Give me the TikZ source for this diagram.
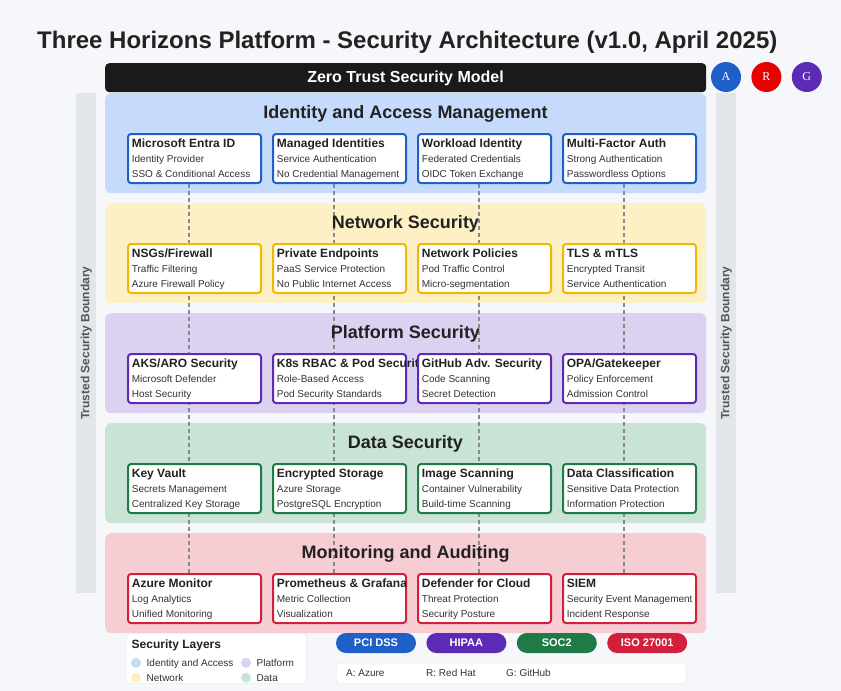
\documentclass[tikz,border=0pt]{standalone}
\usepackage{fontspec}
\setmainfont{Liberation Sans}
\newfontfamily\badgefont{Liberation Serif}
\usetikzlibrary{positioning,calc}

% colours
\definecolor{pagebg}{HTML}{F5F7FA}
\definecolor{ink}{HTML}{222222}
\definecolor{inksoft}{HTML}{333333}
\definecolor{ztblack}{HTML}{1A1A1A}
\definecolor{azure}{HTML}{1F60C8}
\definecolor{redhat}{HTML}{E60000}
\definecolor{github}{HTML}{5B2BB5}
\definecolor{boundary}{HTML}{E2E5EA}
\definecolor{boundtext}{HTML}{555555}
\definecolor{idfill}{HTML}{C6DBFC}
\definecolor{idline}{HTML}{1F5FC8}
\definecolor{netfill}{HTML}{FDF0C4}
\definecolor{netline}{HTML}{F2B705}
\definecolor{platfill}{HTML}{DDD1F1}
\definecolor{platline}{HTML}{5B2BB5}
\definecolor{datafill}{HTML}{C9E3D5}
\definecolor{dataline}{HTML}{1F7A47}
\definecolor{monfill}{HTML}{F5CDD3}
\definecolor{monline}{HTML}{D21F3C}
\definecolor{panelline}{HTML}{DDE1E6}
\definecolor{linkgray}{HTML}{8A8A8A}

\pgfdeclarelayer{bg}
\pgfdeclarelayer{links}
\pgfsetlayers{bg,links,main}

\tikzset{
    % layer band
    layer/.style={
           anchor=north west,
           inner sep=0pt,
           rounded corners=6pt,
           minimum width=601pt,
           minimum height=100pt},
    layertitle/.style={
           anchor=base,
           inner sep=0pt,
           text=ink,
           font=\fontsize{18}{20}\selectfont\bfseries},
    % white component box
    secbox/.style={
           draw=#1,
           line width=2pt,
           fill=white,
           rounded corners=3pt,
           anchor=north west,
           inner sep=0pt,
           minimum width=133pt,
           minimum height=49pt},
    boxtitle/.style={
           anchor=base west,
           inner sep=0pt,
           text=ink,
           font=\fontsize{12}{14}\selectfont\bfseries},
    boxline/.style={
           anchor=base west,
           inner sep=0pt,
           text=inksoft,
           font=\fontsize{10}{12}\selectfont},
    % dashed link between layers
    link/.style={
           draw=linkgray,
           line width=1.4pt,
           dash pattern=on 4pt off 3pt},
    badge/.style={
           circle,
           minimum size=30pt,
           inner sep=0pt,
           text=white,
           font=\badgefont\fontsize{12}{14}\selectfont},
    pill/.style={
           rounded corners=10pt,
           minimum width=80pt,
           minimum height=20pt,
           inner sep=0pt,
           text=white,
           font=\fontsize{11}{13}\selectfont\bfseries},
    legendtext/.style={
           anchor=base west,
           inner sep=0pt,
           text=inksoft,
           font=\fontsize{10}{12}\selectfont}
}

\begin{document}
\begin{tikzpicture}[x=1pt,y=-1pt]
	\useasboundingbox (0,0) rectangle (841,691);
	\begin{pgfonlayer}{bg}
	\fill[pagebg] (0,0) rectangle (841,691);
	\end{pgfonlayer}

	% title
	\node[anchor=base west, inner sep=0pt, text=ink, font=\fontsize{24}{28}\selectfont\bfseries]
	     (main-title) at (37,48.5) {Three Horizons Platform - Security Architecture (v1.0, April 2025)};

	% zero trust bar
	\node[anchor=north west, fill=ztblack, rounded corners=4pt, minimum width=601pt, minimum height=29pt, inner sep=0pt]
	     (zt-bar) at (105,63) {};
	\node[anchor=base, inner sep=0pt, text=white, font=\fontsize{16}{18}\selectfont\bfseries]
	     (zt-name) at (405.5,82.7) {Zero Trust Security Model};

	% provider badges
	\node[badge, fill=azure] (badge-a) at (726,77) {A};
	\node[badge, fill=redhat, right=10pt of badge-a] (badge-r) {R};
	\node[badge, fill=github, right=10pt of badge-r] (badge-g) {G};

	% trust boundary
	\node[anchor=north west, fill=boundary, minimum width=20pt, minimum height=500pt, inner sep=0pt] (bound-left) at (76,93) {};
	\node[anchor=north west, fill=boundary, minimum width=20pt, minimum height=500pt, inner sep=0pt] (bound-right) at (716,93) {};
	\node[rotate=90, text=boundtext, font=\fontsize{12}{14}\selectfont\bfseries] at (bound-left.center) {Trusted Security Boundary};
	\node[rotate=90, text=boundtext, font=\fontsize{12}{14}\selectfont\bfseries] at (bound-right.center) {Trusted Security Boundary};

	% identity layer
	\begin{pgfonlayer}{bg}
	\node[layer, fill=idfill] (id-layer) at (105,93) {};
	\end{pgfonlayer}
	\node[layertitle] (id-title) at (405.5,118.5) {Identity and Access Management};
	\foreach \n/\x/\name/\one/\two in {
	    1/127/Microsoft Entra ID/Identity Provider/SSO \& Conditional Access,
	    2/272/Managed Identities/Service Authentication/No Credential Management,
	    3/417/Workload Identity/Federated Credentials/OIDC Token Exchange,
	    4/562/Multi-Factor Auth/Strong Authentication/Passwordless Options}{
	  \node[secbox=idline] (id-\n) at (\x,133) {};
	  \node[boxtitle] at ([xshift=4.7pt,yshift=-14.6pt]id-\n.north west) {\name};
	  \node[boxline] at ([xshift=4.7pt,yshift=-29.9pt]id-\n.north west) {\one};
	  \node[boxline] at ([xshift=4.7pt,yshift=-44.9pt]id-\n.north west) {\two};
	}

	% network layer
	\begin{pgfonlayer}{bg}
	\node[layer, fill=netfill] (net-layer) at (105,203) {};
	\end{pgfonlayer}
	\node[layertitle] (net-title) at (405.5,228.5) {Network Security};
	\foreach \n/\x/\name/\one/\two in {
	    1/127/{NSGs/Firewall}/Traffic Filtering/Azure Firewall Policy,
	    2/272/Private Endpoints/PaaS Service Protection/No Public Internet Access,
	    3/417/Network Policies/Pod Traffic Control/Micro-segmentation,
	    4/562/TLS \& mTLS/Encrypted Transit/Service Authentication}{
	  \node[secbox=netline] (net-\n) at (\x,243) {};
	  \node[boxtitle] at ([xshift=4.7pt,yshift=-14.6pt]net-\n.north west) {\name};
	  \node[boxline] at ([xshift=4.7pt,yshift=-29.9pt]net-\n.north west) {\one};
	  \node[boxline] at ([xshift=4.7pt,yshift=-44.9pt]net-\n.north west) {\two};
	}

	% platform layer
	\begin{pgfonlayer}{bg}
	\node[layer, fill=platfill] (plat-layer) at (105,313) {};
	\end{pgfonlayer}
	\node[layertitle] (plat-title) at (405.5,338.5) {Platform Security};
	\foreach \n/\x/\name/\one/\two in {
	    1/127/{AKS/ARO Security}/Microsoft Defender/Host Security,
	    2/272/K8s RBAC \& Pod Security/Role-Based Access/Pod Security Standards,
	    3/417/GitHub Adv. Security/Code Scanning/Secret Detection,
	    4/562/{OPA/Gatekeeper}/Policy Enforcement/Admission Control}{
	  \node[secbox=platline] (plat-\n) at (\x,353) {};
	  \node[boxtitle] at ([xshift=4.7pt,yshift=-14.6pt]plat-\n.north west) {\name};
	  \node[boxline] at ([xshift=4.7pt,yshift=-29.9pt]plat-\n.north west) {\one};
	  \node[boxline] at ([xshift=4.7pt,yshift=-44.9pt]plat-\n.north west) {\two};
	}

	% data layer
	\begin{pgfonlayer}{bg}
	\node[layer, fill=datafill] (data-layer) at (105,423) {};
	\end{pgfonlayer}
	\node[layertitle] (data-title) at (405.5,448.5) {Data Security};
	\foreach \n/\x/\name/\one/\two in {
	    1/127/Key Vault/Secrets Management/Centralized Key Storage,
	    2/272/Encrypted Storage/Azure Storage/PostgreSQL Encryption,
	    3/417/Image Scanning/Container Vulnerability/Build-time Scanning,
	    4/562/Data Classification/Sensitive Data Protection/Information Protection}{
	  \node[secbox=dataline] (data-\n) at (\x,463) {};
	  \node[boxtitle] at ([xshift=4.7pt,yshift=-14.6pt]data-\n.north west) {\name};
	  \node[boxline] at ([xshift=4.7pt,yshift=-29.9pt]data-\n.north west) {\one};
	  \node[boxline] at ([xshift=4.7pt,yshift=-44.9pt]data-\n.north west) {\two};
	}

	% monitoring layer
	\begin{pgfonlayer}{bg}
	\node[layer, fill=monfill] (mon-layer) at (105,533) {};
	\end{pgfonlayer}
	\node[layertitle] (mon-title) at (405.5,558.5) {Monitoring and Auditing};
	\foreach \n/\x/\name/\one/\two in {
	    1/127/Azure Monitor/Log Analytics/Unified Monitoring,
	    2/272/Prometheus \& Grafana/Metric Collection/Visualization,
	    3/417/Defender for Cloud/Threat Protection/Security Posture,
	    4/562/SIEM/Security Event Management/Incident Response}{
	  \node[secbox=monline] (mon-\n) at (\x,573) {};
	  \node[boxtitle] at ([xshift=4.7pt,yshift=-14.6pt]mon-\n.north west) {\name};
	  \node[boxline] at ([xshift=4.7pt,yshift=-29.9pt]mon-\n.north west) {\one};
	  \node[boxline] at ([xshift=4.7pt,yshift=-44.9pt]mon-\n.north west) {\two};
	}

	% links through the layers
	\begin{pgfonlayer}{links}
	\foreach \n in {1,...,4}
	  \draw[link] ([xshift=-5.5pt]id-\n.south) -- ([xshift=-5.5pt]mon-\n.north);
	\end{pgfonlayer}

	% legend
	\node[anchor=north west, draw=panelline, fill=white, rounded corners=3pt, minimum width=180pt, minimum height=50pt, inner sep=0pt]
	     (legend) at (126,633) {};
	\node[boxtitle] (legend-title) at (131.5,648) {Security Layers};
	\fill[idfill] (136,662.7) circle (5pt);
	\node[legendtext] (legend-id) at (146.5,666.3) {Identity and Access};
	\fill[platfill] (246,662.7) circle (5pt);
	\node[legendtext] (legend-plat) at (256.5,666.3) {Platform};
	\fill[netfill] (136,677.7) circle (5pt);
	\node[legendtext] (legend-net) at (146.5,681.3) {Network};
	\fill[datafill] (246,677.7) circle (5pt);
	\node[legendtext] (legend-data) at (256.5,681.3) {Data};

	% compliance
	\node[pill, fill=azure] (pill-pci) at (376,643) {PCI DSS};
	\node[pill, fill=github, right=10pt of pill-pci] (pill-hipaa) {HIPAA};
	\node[pill, fill=dataline, right=10pt of pill-hipaa] (pill-soc) {SOC2};
	\node[pill, fill=monline, right=10pt of pill-soc] (pill-iso) {ISO 27001};

	% provider key
	\node[anchor=north west, draw=panelline, fill=white, rounded corners=3pt, minimum width=350pt, minimum height=20pt, inner sep=0pt]
	     (key) at (336,663) {};
	\node[legendtext] (key-a) at (346,676) {A: Azure};
	\node[legendtext] (key-r) at (426,676) {R: Red Hat};
	\node[legendtext] (key-g) at (506,676) {G: GitHub};

\end{tikzpicture}
\end{document}
